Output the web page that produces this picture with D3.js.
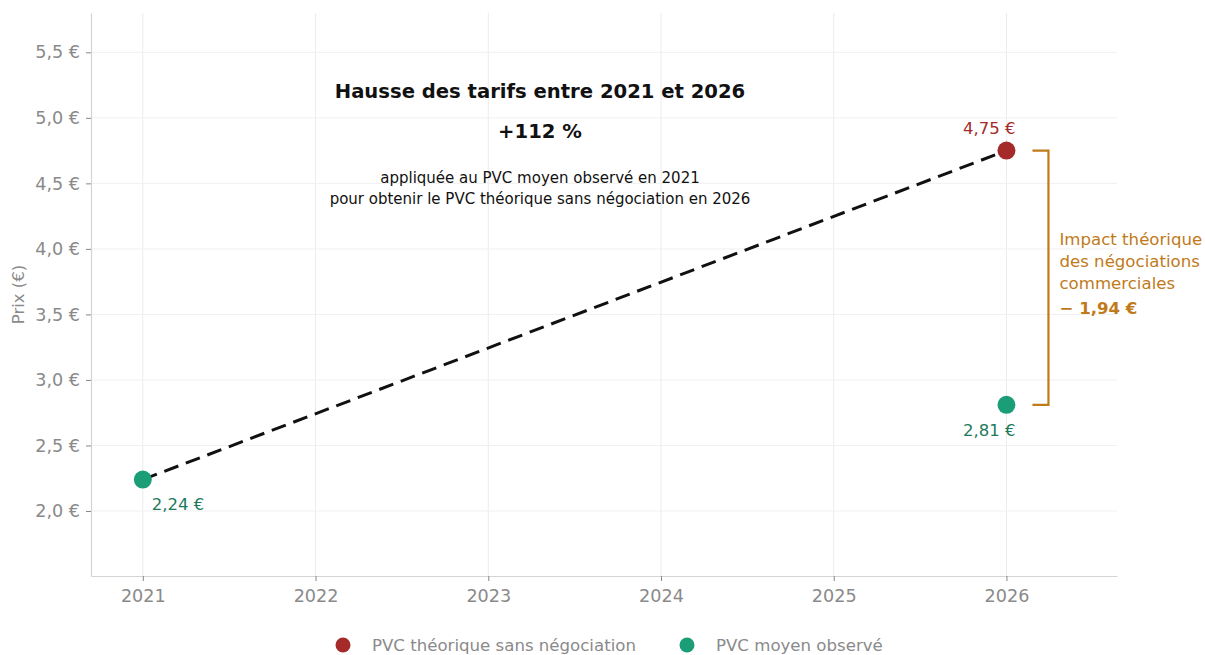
<!DOCTYPE html>
<html>
<head>
<meta charset="utf-8">
<script src="https://cdn.jsdelivr.net/npm/d3@7"></script>
<style>
  body { margin: 0; background: #fff; }
  svg { font-family: "DejaVu Sans", sans-serif; }
</style>
</head>
<body>
<div id="chart"></div>
<script>
// data
const years = [2021, 2022, 2023, 2024, 2025, 2026]
const yTicks = [2.0, 2.5, 3.0, 3.5, 4.0, 4.5, 5.0, 5.5]
const observed = [{ year: 2021, value: 2.24 }, { year: 2026, value: 2.81 }]
const theoretical = [{ year: 2026, value: 4.75 }]
const trend = [{ year: 2021, value: 2.24 }, { year: 2026, value: 4.75 }]
const seriesNames = ['PVC théorique sans négociation', 'PVC moyen observé']
const gap = 1.94
const hausse = 112

const W = 1205, H = 655
const red = '#a52a2a', green = '#1b9e77', orange = '#c07a1a'
const fr = v => v.toFixed(1).replace('.', ',') + ' €'
const fr2 = v => v.toFixed(2).replace('.', ',') + ' €'

const svg = d3.select('#chart').append('svg')
    .attr('width', W)
    .attr('height', H)

const pLeft = 91, pRight = 1117, pTop = 13, pBottom = 576

const x = d3.scaleLinear().domain([2020.70, 2026.64]).range([pLeft, pRight])
const y = d3.scaleLinear().domain([1.504, 5.80]).range([pBottom, pTop])

// grid
svg.append('g').selectAll('line').data(years).join('line')
    .attr('x1', d => x(d)).attr('x2', d => x(d))
    .attr('y1', pTop).attr('y2', pBottom)
    .attr('stroke', '#ececec').attr('stroke-width', 1)
svg.append('g').selectAll('line').data(yTicks).join('line')
    .attr('x1', pLeft).attr('x2', pRight)
    .attr('y1', d => y(d)).attr('y2', d => y(d))
    .attr('stroke', '#f0f0f0').attr('stroke-width', 1)

// axes
const xAxis = svg.append('g')
    .attr('transform', `translate(0,${pBottom})`)
    .call(d3.axisBottom(x).tickValues(years).tickFormat(d3.format('d')).tickSize(5).tickPadding(6).tickSizeOuter(0))
const yAxis = svg.append('g')
    .attr('transform', `translate(${pLeft},0)`)
    .call(d3.axisLeft(y).tickValues(yTicks).tickFormat(fr).tickSize(5).tickPadding(6).tickSizeOuter(0))
for (const ax of [xAxis, yAxis]) {
    ax.select('.domain').attr('stroke', '#d4d4d4').attr('stroke-width', 1.2)
    ax.selectAll('.tick line').attr('stroke', '#888')
    ax.selectAll('.tick text').attr('fill', '#8a8a8a').attr('font-size', '17.6px')
        .attr('font-family', '"DejaVu Sans", sans-serif')
}
xAxis.selectAll('.tick text').attr('dy', '0.85em')

svg.append('text')
    .attr('transform', `translate(24,${(pTop + pBottom) / 2}) rotate(-90)`)
    .attr('text-anchor', 'middle')
    .attr('fill', '#8a8a8a')
    .attr('font-size', '16.5px')
    .text('Prix (€)')

// dashed trend
svg.append('path')
    .datum(trend)
    .attr('d', d3.line().x(d => x(d.year)).y(d => y(d.value)))
    .attr('fill', 'none')
    .attr('stroke', '#111')
    .attr('stroke-width', 3)
    .attr('stroke-dasharray', '15,8')

// points
svg.append('g').selectAll('circle').data(theoretical).join('circle')
    .attr('cx', d => x(d.year)).attr('cy', d => y(d.value)).attr('r', 9)
    .attr('fill', red)
svg.append('g').selectAll('circle').data(observed).join('circle')
    .attr('cx', d => x(d.year)).attr('cy', d => y(d.value)).attr('r', 9)
    .attr('fill', green)

// value labels
svg.append('text')
    .attr('x', x(2026) + 9).attr('y', y(theoretical[0].value) - 17)
    .attr('text-anchor', 'end').attr('fill', red).attr('font-size', '16.5px')
    .text(fr2(theoretical[0].value))
svg.append('text')
    .attr('x', x(2026) + 9).attr('y', y(observed[1].value) + 31)
    .attr('text-anchor', 'end').attr('fill', '#1d7a5c').attr('font-size', '16.5px')
    .text(fr2(observed[1].value))
svg.append('text')
    .attr('x', x(2021) + 9).attr('y', y(observed[0].value) + 30)
    .attr('text-anchor', 'start').attr('fill', '#1d7a5c').attr('font-size', '16.5px')
    .text(fr2(observed[0].value))

// bracket
const bx0 = x(2026) + 26, bx1 = x(2026) + 42
svg.append('path')
    .attr('d', `M${bx0},${y(theoretical[0].value)} H${bx1} V${y(observed[1].value)} H${bx0}`)
    .attr('fill', 'none').attr('stroke', orange).attr('stroke-width', 2.2)
const impact = svg.append('g').attr('fill', orange).attr('font-size', '16.6px')
const impactLines = ['Impact théorique', 'des négociations', 'commerciales']
impactLines.forEach((t, i) => {
    impact.append('text').attr('x', bx1 + 11).attr('y', 245 + i * 22).text(t)
})
impact.append('text').attr('x', bx1 + 11).attr('y', 314)
    .attr('font-weight', 'bold').text('− ' + fr2(gap))

// annotation
const cx = 540
svg.append('text').attr('x', cx).attr('y', 98).attr('text-anchor', 'middle')
    .attr('font-weight', 'bold').attr('font-size', '19.6px').attr('fill', '#111')
    .text('Hausse des tarifs entre 2021 et 2026')
svg.append('text').attr('x', cx).attr('y', 138).attr('text-anchor', 'middle')
    .attr('font-weight', 'bold').attr('font-size', '19.6px').attr('fill', '#111')
    .text(`+${hausse} %`)
svg.append('text').attr('x', cx).attr('y', 183).attr('text-anchor', 'middle')
    .attr('font-size', '15px').attr('fill', '#111')
    .text('appliquée au PVC moyen observé en 2021')
svg.append('text').attr('x', cx).attr('y', 204).attr('text-anchor', 'middle')
    .attr('font-size', '15px').attr('fill', '#111')
    .text('pour obtenir le PVC théorique sans négociation en 2026')

// legend
const legend = svg.append('g')
const legX = [343, 687]
const legColors = [red, green]
seriesNames.forEach((name, i) => {
    legend.append('circle').attr('cx', legX[i]).attr('cy', 645).attr('r', 7.5).attr('fill', legColors[i])
    legend.append('text').attr('x', legX[i] + 29).attr('y', 651)
        .attr('fill', '#8a8a8a').attr('font-size', '16.6px').text(name)
})
</script>
</body>
</html>
